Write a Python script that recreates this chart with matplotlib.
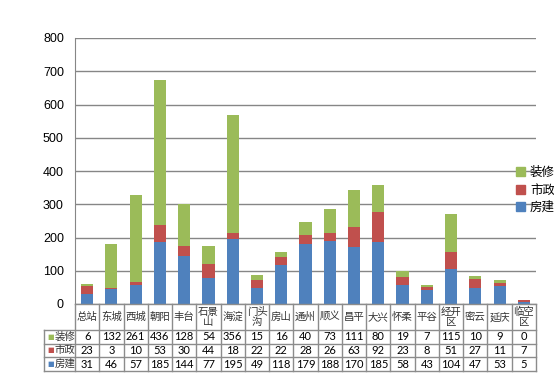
import matplotlib.pyplot as plt
from matplotlib.transforms import blended_transform_factory
from matplotlib.lines import Line2D
from matplotlib.patches import Patch
import numpy as np

plt.rcParams['font.family'] = ['Noto Sans CJK SC', 'DejaVu Sans']

districts = ['总站', '东城', '西城', '朝阳', '丰台', '石景山', '海淀', '门头沟', '房山', '通州',
             '顺义', '昌平', '大兴', '怀柔', '平谷', '经开区', '密云', '延庆', '临空区']
header_labels = ['总站', '东城', '西城', '朝阳', '丰台', '石景\n山', '海淀', '门头\n沟', '房山', '通州',
                 '顺义', '昌平', '大兴', '怀柔', '平谷', '经开\n区', '密云', '延庆', '临空\n区']
fangjian = [31, 46, 57, 185, 144, 77, 195, 49, 118, 179, 188, 170, 185, 58, 43, 104, 47, 53, 5]
shizheng = [23, 3, 10, 53, 30, 44, 18, 22, 22, 28, 26, 63, 92, 23, 8, 51, 27, 11, 7]
zhuangxiu = [6, 132, 261, 436, 128, 54, 356, 15, 16, 40, 73, 111, 80, 19, 7, 115, 10, 9, 0]

c_blue = '#4F81BD'
c_red = '#C0504D'
c_green = '#9BBB59'
grid_c = '#868686'

W, H = 554, 382
fig = plt.figure(figsize=(W / 100, H / 100), dpi=100)
ax = fig.add_axes([75 / W, 1 - 304 / H, (536 - 75) / W, (304 - 38) / H])

x = np.arange(len(districts))
fj = np.array(fangjian)
sz = np.array(shizheng)
zx = np.array(zhuangxiu)
ax.bar(x, fj, width=0.5, color=c_blue, zorder=3)
ax.bar(x, sz, width=0.5, bottom=fj, color=c_red, zorder=3)
ax.bar(x, zx, width=0.5, bottom=fj + sz, color=c_green, zorder=3)

ax.set_xlim(-0.5, len(districts) - 0.5)
ax.set_ylim(0, 800)
ax.set_yticks(range(0, 801, 100))
ax.yaxis.grid(True, color=grid_c, linewidth=1, zorder=0)
ax.set_xticks([])
ax.tick_params(axis='y', length=0, pad=8, labelsize=9)
for lbl in ax.get_yticklabels():
    lbl.set_family('Liberation Sans')
for s in ['top', 'right', 'bottom']:
    ax.spines[s].set_visible(False)
ax.spines['left'].set_color(grid_c)

# data table under the axes
tr = blended_transform_factory(ax.transData, fig.transFigure)
def fy(py):
    return 1 - py / H

left = -0.5 - 31 / ((536 - 75) / len(districts))
right = len(districts) - 0.5
rows_y = [304, 330, 343.5, 357, 371]
lc = '#8C8C8C'
# horizontal lines
fig.add_artist(Line2D([-0.5, right], [fy(304)] * 2, transform=tr, color=lc, lw=1))
for py in rows_y[1:]:
    fig.add_artist(Line2D([left, right], [fy(py)] * 2, transform=tr, color=lc, lw=1))
# vertical lines
fig.add_artist(Line2D([left, left], [fy(330), fy(371)], transform=tr, color=lc, lw=1))
for i in range(len(districts) + 1):
    fig.add_artist(Line2D([i - 0.5, i - 0.5], [fy(304), fy(371)], transform=tr, color=lc, lw=1))

for i, lab in enumerate(header_labels):
    fig.text(i, fy(317), lab, transform=tr, ha='center', va='center', fontsize=7.5,
             linespacing=1.0, color='#333333')

series_rows = [('装修', c_green, zhuangxiu), ('市政', c_red, shizheng), ('房建', c_blue, fangjian)]
for r, (name, col, vals) in enumerate(series_rows):
    yc = fy((rows_y[r + 1] + rows_y[r + 2]) / 2)
    fig.text(left + 0.12, yc, '■', transform=tr, ha='left', va='center', fontsize=5,
             color=col, family='DejaVu Sans')
    fig.text(left + 0.45, yc, name, transform=tr, ha='left', va='center', fontsize=7.5,
             color='#333333')
    for i, v in enumerate(vals):
        fig.text(i, yc, str(v), transform=tr, ha='center', va='center', fontsize=8,
                 color='black', family='Lato')

# legend
handles = [Patch(color=c_green, label='装修'), Patch(color=c_red, label='市政'),
           Patch(color=c_blue, label='房建')]
fig.legend(handles=handles, loc='center left', bbox_to_anchor=(510 / W, fy(190)),
           frameon=False, fontsize=9, handlelength=0.7, handleheight=0.7,
           handletextpad=0.4, labelspacing=0.35, borderpad=0)

fig.savefig('out.png', dpi=100)
